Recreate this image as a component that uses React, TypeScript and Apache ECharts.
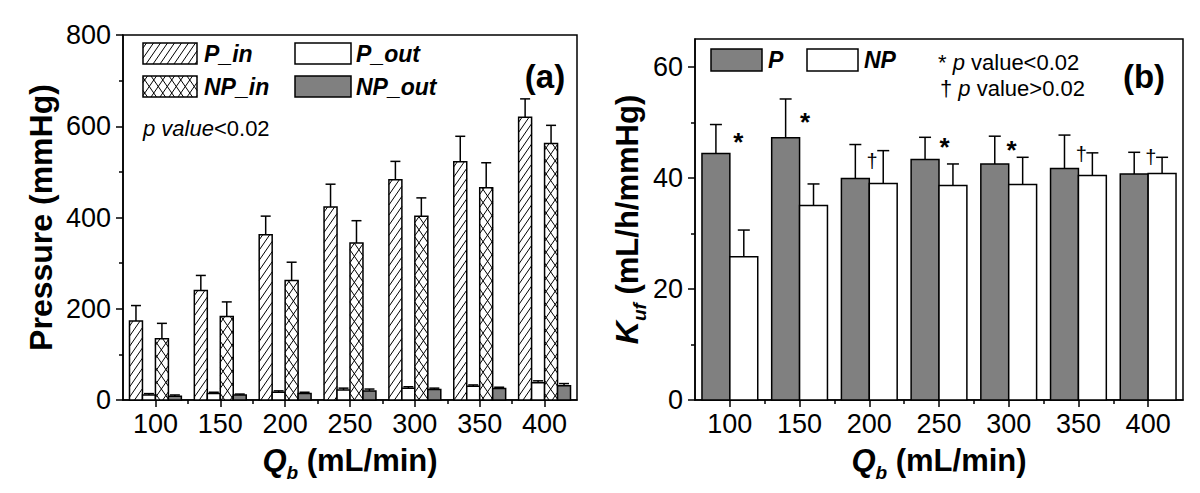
import React, { useEffect, useRef } from "react";
import * as echarts from "echarts";

// ---------- data ----------
const categories = [100, 150, 200, 250, 300, 350, 400];
const minorX = [125, 175, 225, 275, 325, 375];

const pInValues = [173, 240, 362, 423, 483, 522, 620];
const pInErr = [34, 33, 41, 50, 40, 56, 40];
const pOutValues = [11, 14, 17, 22, 26, 30, 38];
const pOutErr = [3, 3, 3, 4, 3, 3, 4];
const npInValues = [134, 183, 262, 344, 403, 465, 562];
const npInErr = [34, 32, 40, 49, 40, 55, 40];
const npOutValues = [8, 11, 14, 20, 23, 25, 31];
const npOutErr = [3, 2, 3, 4, 3, 3, 5];

const kufP = [44.4, 47.2, 39.9, 43.3, 42.5, 41.7, 40.7];
const kufPErr = [5.2, 7.0, 6.1, 4.0, 5.0, 6.0, 3.9];
const kufNP = [25.8, 35.0, 39.0, 38.6, 38.8, 40.4, 40.8];
const kufNPErr = [4.8, 3.9, 5.9, 3.9, 4.9, 4.1, 2.9];

const sigMarks = ["*", "*", "†", "*", "*", "†", "†"];
const sigX = [106, 154, 202, 254, 302, 352, 402];
const sigY = [46.5, 50, 43, 45.5, 45, 44.3, 43.7];

const pressureTicks = [0, 200, 400, 600, 800];
const pressureMinor = [100, 300, 500, 700];
const kufTicks = [0, 20, 40, 60];
const kufMinor = [10, 30, 50];

// ---------- style ----------
const FF = "'Liberation Sans', Arial, sans-serif";
const GRAY = "#808080";
const K = 1.45;
const TICK_FS = 27;
const NAME_FS = 31;

function hatchSegments(x0: number, y0: number, x1: number, y1: number, k: number, step: number, dir: number) {
  const H = y1 - y0;
  const span = H / k;
  const segs: any[] = [];
  if (dir === 1) {
    for (let t = x0 - span + (step / 2); t < x1; t += step) {
      const xa = Math.max(x0, t);
      const xb = Math.min(x1, t + span);
      if (xb > xa) segs.push([xa, y1 - k * (xa - t), xb, y1 - k * (xb - t)]);
    }
  } else {
    for (let t = x0 + step / 2; t < x1 + span; t += step) {
      const xa = Math.max(x0, t - span);
      const xb = Math.min(x1, t);
      if (xb > xa) segs.push([xa, y1 - k * (t - xa), xb, y1 - k * (t - xb)]);
    }
  }
  return segs.map((s) => ({
    type: "line",
    shape: { x1: s[0], y1: s[1], x2: s[2], y2: s[3] },
    style: { stroke: "#000", lineWidth: 1 },
    silent: true,
  }));
}

function boxElements(x0: number, y0: number, w: number, h: number, fill: string) {
  const els: any[] = [];
  els.push({ type: "rect", shape: { x: x0, y: y0, width: w, height: h }, style: { fill: fill === "gray" ? GRAY : "#fff" } });
  if (fill === "hatch") els.push(...hatchSegments(x0, y0, x0 + w, y0 + h, K, 7, 1));
  if (fill === "cross") {
    els.push(...hatchSegments(x0, y0, x0 + w, y0 + h, K, 9, 1));
    els.push(...hatchSegments(x0, y0, x0 + w, y0 + h, K, 9, -1));
  }
  els.push({ type: "rect", shape: { x: x0, y: y0, width: w, height: h }, style: { fill: "none", stroke: "#000", lineWidth: 1.5 } });
  return els;
}

function makeBarRenderer(offset: number, width: number, fill: string, capHalf: number) {
  return (params: any, api: any) => {
    const x = api.value(0);
    const v = api.value(1);
    const e = api.value(2);
    const pBase = api.coord([x + offset, 0]);
    const pTop = api.coord([x + offset + width, v]);
    const x0 = pBase[0];
    const x1 = pTop[0];
    const y0 = pTop[1];
    const y1 = pBase[1];
    const cx = (x0 + x1) / 2;
    const pErr = api.coord([x, v + e]);
    const children: any[] = boxElements(x0, y0, x1 - x0, y1 - y0, fill);
    children.push({ type: "line", shape: { x1: cx, y1: y0, x2: cx, y2: pErr[1] }, style: { stroke: "#000", lineWidth: 1.5 } });
    children.push({ type: "line", shape: { x1: cx - capHalf, y1: pErr[1], x2: cx + capHalf, y2: pErr[1] }, style: { stroke: "#000", lineWidth: 1.5 } });
    return { type: "group", children };
  };
}

function triples(xs: number[], vs: number[], es: number[]) {
  return xs.map((x, i) => [x, vs[i], es[i]]);
}

const lineStyle = { color: "#000", width: 1.5 };

const qRich = {
  q: { fontSize: NAME_FS, fontWeight: "bold", fontStyle: "italic", fontFamily: FF, color: "#000", lineHeight: 44, verticalAlign: "middle" },
  sub: { fontSize: 19, fontWeight: "bold", fontStyle: "italic", fontFamily: FF, color: "#000", lineHeight: 20, verticalAlign: "bottom" },
  n: { fontSize: NAME_FS, fontWeight: "bold", fontFamily: FF, color: "#000", lineHeight: 44, verticalAlign: "middle" },
};

function xAxes(gridIndex: number, nameGap: number) {
  return [
    {
      type: "value", gridIndex, min: 75, max: 425, position: "bottom",
      axisLine: { show: true, onZero: false, lineStyle },
      axisTick: { show: true, customValues: categories, length: 7, lineStyle },
      axisLabel: { customValues: categories, fontSize: TICK_FS, color: "#000", fontFamily: FF, margin: 10 },
      splitLine: { show: false },
      name: "{q|Q}{sub|b}{n| (mL/min)}",
      nameLocation: "middle",
      nameGap,
      nameTextStyle: { rich: qRich },
    },
    {
      type: "value", gridIndex, min: 75, max: 425, position: "bottom",
      axisLine: { show: false },
      axisTick: { show: true, customValues: minorX, length: 4, lineStyle },
      axisLabel: { show: false },
      splitLine: { show: false },
    },
  ];
}

function yAxes(gridIndex: number, max: number, ticks: number[], minor: number[], name: string, nameGap: number, rich: any) {
  return [
    {
      type: "value", gridIndex, min: 0, max, position: "left",
      axisLine: { show: true, onZero: false, lineStyle },
      axisTick: { show: true, customValues: ticks, length: 7, lineStyle },
      axisLabel: { customValues: ticks, fontSize: TICK_FS, color: "#000", fontFamily: FF, margin: 12 },
      splitLine: { show: false },
      name, nameLocation: "middle", nameGap,
      nameTextStyle: { rich },
    },
    {
      type: "value", gridIndex, min: 0, max, position: "left",
      axisLine: { show: false },
      axisTick: { show: true, customValues: minor, length: 4, lineStyle },
      axisLabel: { show: false },
      splitLine: { show: false },
    },
  ];
}

function legendText(x: number, y: number, text: string, font: string, rich?: any) {
  return {
    type: "text", x, y,
    style: { text, font, fill: "#000", align: "left", verticalAlign: "middle", rich },
  };
}

export default function App() {
  const ref = useRef<HTMLDivElement>(null);
  useEffect(() => {
    if (!ref.current) return;
    const chart = echarts.init(ref.current, undefined, { renderer: "svg" });

    const legendFont = `italic bold 23px ${FF}`;
    const pRich = {
      i: { fontStyle: "italic", fontSize: 22, fontFamily: FF, fill: "#000" },
      n: { fontSize: 22, fontFamily: FF, fill: "#000" },
    };

    const graphics: any[] = [
      // panel (a) legend
      ...boxElements(143, 43, 54, 21, "hatch"),
      legendText(204, 54, "P_in", legendFont),
      ...boxElements(295, 43, 56, 21, "white"),
      legendText(356, 54, "P_out", legendFont),
      ...boxElements(143, 76, 54, 21, "cross"),
      legendText(204, 87, "NP_in", legendFont),
      ...boxElements(295, 76, 56, 21, "gray"),
      legendText(356, 87, "NP_out", legendFont),
      { type: "text", x: 545, y: 76, style: { text: "(a)", font: `bold 33px ${FF}`, fill: "#000", align: "center", verticalAlign: "middle" } },
      legendText(143, 128, "{i|p value}{n|<0.02}", `22px ${FF}`, pRich),
      // panel (b) legend
      ...boxElements(711, 49, 51, 22, "gray"),
      legendText(768, 60, "P", legendFont),
      ...boxElements(807, 49, 51, 22, "white"),
      legendText(864, 60, "NP", legendFont),
      legendText(938, 62, "{n|* }{i|p}{n| value<0.02}", `22px ${FF}`, pRich),
      legendText(940, 88, "{n|† }{i|p}{n| value>0.02}", `22px ${FF}`, pRich),
      { type: "text", x: 1144, y: 76, style: { text: "(b)", font: `bold 33px ${FF}`, fill: "#000", align: "center", verticalAlign: "middle" } },
    ];

    const yRichA = {
      n: { fontSize: 32, fontWeight: "bold", fontFamily: FF, color: "#000" },
    };
    const yRichB = {
      k: { fontSize: 32, fontWeight: "bold", fontStyle: "italic", fontFamily: FF, color: "#000", lineHeight: 44, verticalAlign: "middle" },
      sub: { fontSize: 19, fontWeight: "bold", fontStyle: "italic", fontFamily: FF, color: "#000", lineHeight: 20, verticalAlign: "bottom" },
      n: { fontSize: NAME_FS, fontWeight: "bold", fontFamily: FF, color: "#000", lineHeight: 44, verticalAlign: "middle" },
    };

    const mk = (name: string, xi: number, yi: number, data: any[], r: any) => ({
      type: "custom", name, xAxisIndex: xi, yAxisIndex: yi, data,
      encode: { x: 0, y: 1 }, renderItem: r, clip: false, silent: true,
    });

    const option: any = {
      animation: false,
      backgroundColor: "#fff",
      grid: [
        { left: 123, top: 35, width: 454, height: 365, show: true, borderColor: "#000", borderWidth: 1.5, backgroundColor: "transparent" },
        { left: 695, top: 39, width: 488, height: 361, show: true, borderColor: "#000", borderWidth: 1.5, backgroundColor: "transparent" },
      ],
      xAxis: [...xAxes(0, 38), ...xAxes(1, 38)],
      yAxis: [
        ...yAxes(0, 800, pressureTicks, pressureMinor, "{n|Pressure (mmHg)}", 66, yRichA),
        ...yAxes(1, 65, kufTicks, kufMinor, "{k|K}{sub|uf}{n| (mL/h/mmHg)}", 44, yRichB),
      ],
      series: [
        mk("P_in", 0, 0, triples(categories, pInValues, pInErr), makeBarRenderer(-20, 10, "hatch", 5)),
        mk("P_out", 0, 0, triples(categories, pOutValues, pOutErr), makeBarRenderer(-10, 10, "white", 5)),
        mk("NP_in", 0, 0, triples(categories, npInValues, npInErr), makeBarRenderer(0, 10, "cross", 5)),
        mk("NP_out", 0, 0, triples(categories, npOutValues, npOutErr), makeBarRenderer(10, 10, "gray", 5)),
        mk("P", 2, 2, triples(categories, kufP, kufPErr), makeBarRenderer(-20, 20, "gray", 6)),
        mk("NP", 2, 2, triples(categories, kufNP, kufNPErr), makeBarRenderer(0, 20, "white", 6)),
        {
          type: "custom", name: "sig", xAxisIndex: 2, yAxisIndex: 2, silent: true, clip: false,
          data: sigX.map((x, i) => [x, sigY[i], i]),
          encode: { x: 0, y: 1 },
          renderItem: (params: any, api: any) => {
            const p = api.coord([api.value(0), api.value(1)]);
            const m = sigMarks[api.value(2)];
            return {
              type: "text", x: p[0], y: p[1],
              style: { text: m, font: m === "*" ? `bold 26px ${FF}` : `20px ${FF}`, fill: "#000", align: "center", verticalAlign: "middle" },
            };
          },
        },
      ],
      graphic: graphics,
    };
    chart.setOption(option);
    return () => chart.dispose();
  }, []);
  return <div ref={ref} style={{ position: "fixed", left: 0, top: 0, width: 1200, height: 493, background: "#fff" }} />;
}
